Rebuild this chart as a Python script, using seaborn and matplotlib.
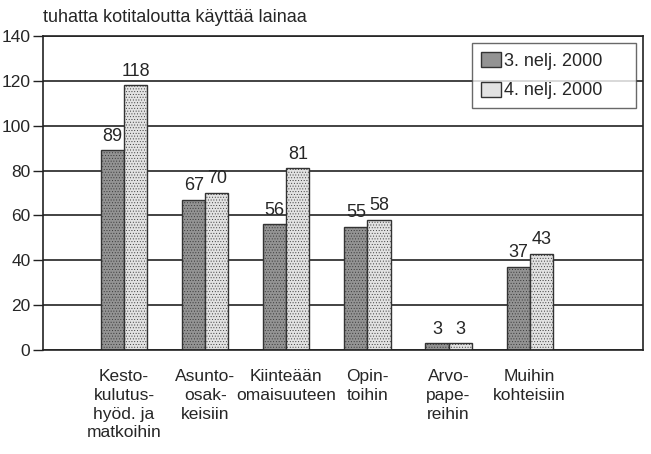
import seaborn as sns
import pandas as pd
import matplotlib.pyplot as plt

kohteet = ['Kesto-\nkulutus-\nhyöd. ja\nmatkoihin', 'Asunto-\nosak-\nkeisiin',
           'Kiinteään\nomaisuuteen', 'Opin-\ntoihin', 'Arvo-\npape-\nreihin', 'Muihin\nkohteisiin']
q3_2000 = [89, 67, 56, 55, 3, 37]
q4_2000 = [118, 70, 81, 58, 3, 43]
sarjat = ['3. nelj. 2000', '4. nelj. 2000']

df = pd.DataFrame({
    'kohde': kohteet * 2,
    'arvo': q3_2000 + q4_2000,
    'sarja': [sarjat[0]] * len(kohteet) + [sarjat[1]] * len(kohteet),
})

sns.set_style('white')
plt.rcParams['font.family'] = ['Liberation Sans', 'DejaVu Sans']
plt.rcParams['hatch.linewidth'] = 0.35

fig = plt.figure(figsize=(6.51, 4.54), dpi=100)
ax = fig.add_axes([0.066, 0.229, 0.922, 0.692])

ax.yaxis.grid(True, color='#222222', linewidth=1.2)
ax.set_axisbelow(True)

sns.barplot(data=df, x='kohde', y='arvo', hue='sarja', palette=['#939393', '#e2e2e2'],
            width=0.57, edgecolor='#333333', linewidth=1.0, ax=ax)

for cont in ax.containers:
    for bar in cont:
        bar.set_hatch('......')
    ax.bar_label(cont, padding=4, fontsize=13)

ax.set_ylim(0, 140)
ax.set_yticks(range(0, 141, 20))
ax.set_xlim(-1.0, 6.4)
ax.set_xlabel('')
ax.set_ylabel('')
ax.tick_params(axis='y', length=7, width=1, color='#222222', labelsize=12.5, pad=2,
               direction='out', left=True)
ax.tick_params(axis='x', length=0, labelsize=12.5, pad=14)
for lab in ax.get_xticklabels():
    lab.set_linespacing(1.3)
for s in ax.spines.values():
    s.set_color('#222222')
    s.set_linewidth(1.2)

ax.text(0, 1.03, 'tuhatta kotitaloutta käyttää lainaa', transform=ax.transAxes,
        fontsize=13, ha='left', va='bottom')

leg = ax.legend(loc='upper right', bbox_to_anchor=(1.0, 1.0), fontsize=13, frameon=True,
                fancybox=False, edgecolor='#444444', handlelength=1.1, handleheight=0.9,
                handletextpad=0.15, borderpad=0.5, labelspacing=0.65, borderaxespad=0.4)
leg.get_frame().set_linewidth(1.0)
# widen the box a bit
for t in leg.get_texts():
    t.set_text(t.get_text() + '     ')

fig.savefig('out.png', dpi=100)
